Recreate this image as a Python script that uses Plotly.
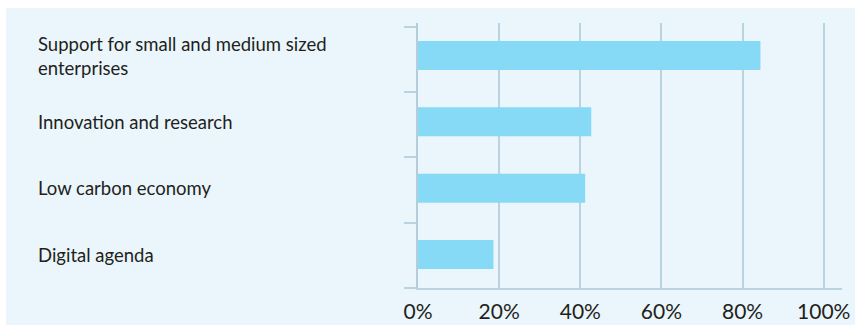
import plotly.graph_objects as go

# ---- data ----
categories = [
    "Support for small and medium sized<br>enterprises",
    "Innovation and research",
    "Low carbon economy",
    "Digital agenda",
]
values = [84.4, 42.7, 41.2, 18.6]
x_ticks = [0, 20, 40, 60, 80, 100]
x_tick_labels = ["0%", "20%", "40%", "60%", "80%", "100%"]

# ---- style ----
PANEL = "#EAF6FC"
BAR = "#87DAF6"
GRID = "#B9D4E0"
TEXT = "#231F20"
FONT = "Lato"

W, H = 855, 325
L, R, T, B = 418, 13, 23, 37
plot_w = W - L - R
plot_h = H - T - B

ypos = list(range(len(categories)))

fig = go.Figure()
fig.add_trace(go.Bar(
    x=values, y=ypos, orientation="h",
    marker=dict(color=BAR, line=dict(width=0)),
    width=0.437, hoverinfo="skip",
))

# panel background
fig.add_shape(type="rect", xref="paper", yref="paper", layer="below",
              x0=(6 - L) / plot_w, x1=(W + 2 - L) / plot_w,
              y0=(T + plot_h - H - 2) / plot_h, y1=(T + plot_h - 8) / plot_h,
              fillcolor=PANEL, line=dict(width=0))

# category labels, left aligned
for i, c in enumerate(categories):
    fig.add_annotation(x=(36 - L) / plot_w, xref="paper", y=ypos[i], yref="y",
                       text=c, showarrow=False, xanchor="left", yanchor="middle",
                       align="left", font=dict(family=FONT, size=18.5, color=TEXT))

fig.update_layout(
    width=W, height=H,
    margin=dict(l=L, r=R, t=T, b=B, pad=0, autoexpand=False),
    paper_bgcolor="white",
    plot_bgcolor="rgba(0,0,0,0)",
    showlegend=False,
    font=dict(family=FONT, color=TEXT),
    xaxis=dict(
        range=[0, 104.5], tickvals=x_ticks, ticktext=x_tick_labels,
        showgrid=True, gridcolor=GRID, gridwidth=1.5,
        zeroline=False, showline=True, linecolor=GRID, linewidth=1.5,
        ticks="", tickfont=dict(family=FONT, size=21, color=TEXT),
        ticklabelstandoff=4, automargin=False, fixedrange=True,
    ),
    yaxis=dict(
        range=[3.505, -0.49],
        tickvals=[-0.434, 0.550, 1.535, 2.520, 3.505],
        showticklabels=False, showgrid=False, zeroline=False,
        showline=True, linecolor="#B3CEDA", linewidth=2,
        ticks="outside", ticklen=12, tickwidth=2, tickcolor=GRID,
        automargin=False, fixedrange=True,
    ),
)

fig.write_html("out.html")
